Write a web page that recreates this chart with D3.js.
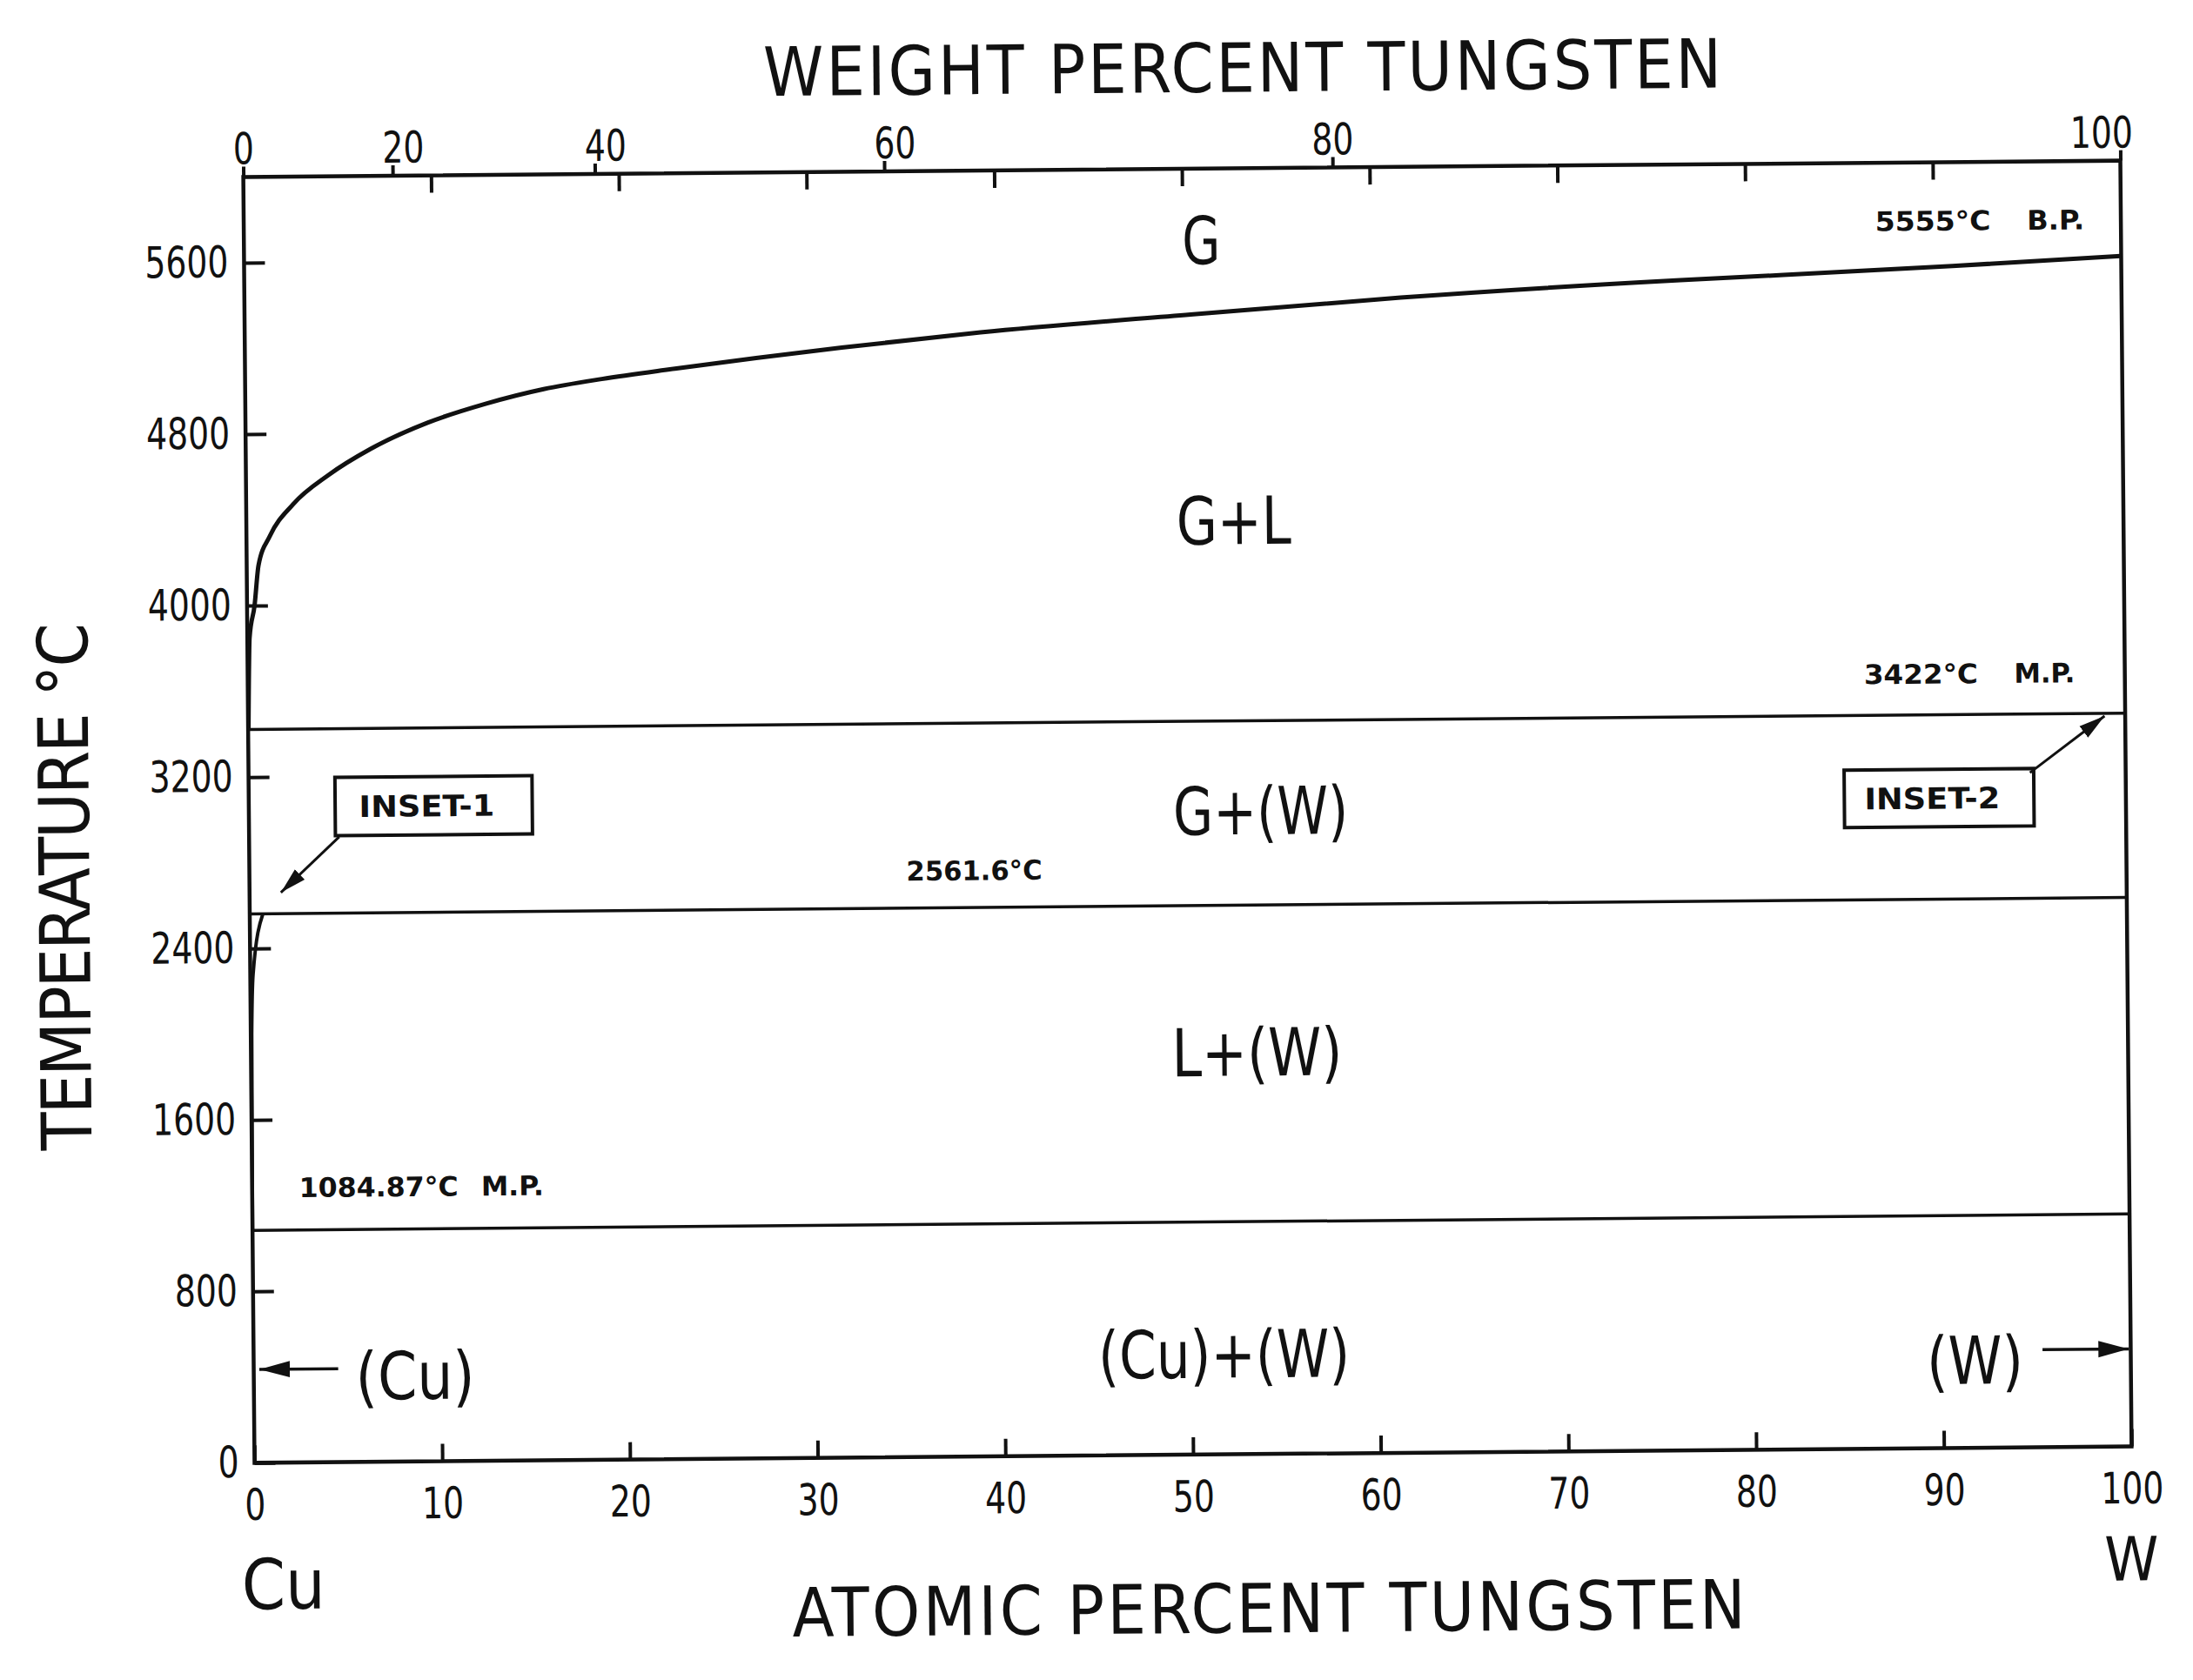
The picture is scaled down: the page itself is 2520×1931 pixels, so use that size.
<!DOCTYPE html>
<html><head><meta charset="utf-8">
<script src="https://cdn.jsdelivr.net/npm/d3@7"></script>
<style>
html,body{margin:0;padding:0;background:#fff;}
svg{display:block;}
text{font-family:"DejaVu Sans Condensed","Liberation Sans Narrow","Arial Narrow",sans-serif;fill:#111;}
</style></head><body>
<svg id="chart" width="2520" height="1931"></svg>
<script>
// ---------- data ----------
const atomicTicks = [0,10,20,30,40,50,60,70,80,90,100];
const weightTicks = [0,20,40,60,80,100];
const tempTicks = [0,800,1600,2400,3200,4000,4800,5600];
const isotherms = [1084.87, 2561.6, 3422];
const isothermValues = ["1084.87°C", "2561.6°C", "3422°C"];
const isothermNotes = ["M.P.", "", "M.P."];
const boilValue = "5555°C", boilNote = "B.P.";
// G / (G+L) boundary (at.% W, °C)
const boilAt = [0.02, 0.12, 0.40, 0.63, 1.25, 2.5, 4.4, 6.65, 9.7, 12.8, 15.9, 19.0, 22.9, 31.8, 39.2, 50.4, 61.6, 76.5, 82, 91, 100];
const boilT  = [3422, 3850, 4000, 4188, 4324, 4471, 4606, 4726, 4846, 4932, 4998, 5043, 5088, 5180, 5245, 5320, 5390, 5460, 5480, 5515, 5555];
// liquidus on the Cu side (at.% W, °C)
const liqAt = [0, 0.05, 0.15, 0.7];
const liqT  = [1084.87, 2000, 2280, 2561.6];
const phaseLabels = ["G", "G+L", "G+(W)", "L+(W)", "(Cu)+(W)"];
const massCu = 63.546, massW = 183.84;

// ---------- layout ----------
const W = 2520, H = 1931;
const pL = 286, pR = 2443, pT = 194, pB = 1672;
const cx = (pL + pR) / 2, cy = (pT + pB) / 2;
const x = d3.scaleLinear().domain([0, 100]).range([pL, pR]);
const y = d3.scaleLinear().domain([0, 6000]).range([pB, pT]);
const wtToAt = w => { const a = w / massW, b = (100 - w) / massCu; return 100 * a / (a + b); };
const ink = "#111";

const svg = d3.select("#chart");
svg.append("rect").attr("width", W).attr("height", H).attr("fill", "#fff");
const defs = svg.append("defs");
defs.append("marker").attr("id", "ah").attr("viewBox", "0 0 10 10")
  .attr("refX", 10).attr("refY", 5).attr("markerWidth", 10).attr("markerHeight", 10)
  .attr("markerUnits", "strokeWidth").attr("orient", "auto")
  .append("path").attr("d", "M0,2.3L10,5L0,7.7Z").attr("fill", ink);

const g = svg.append("g").attr("transform", `rotate(-0.5 ${cx} ${cy})`);

function styleAxis(sel, size) {
  sel.select(".domain").remove();
  sel.selectAll("line").attr("stroke", ink).attr("stroke-width", 4);
  sel.selectAll("text").attr("font-size", size)
    .attr("textLength", function () { return this.textContent.length * 24; })
    .attr("lengthAdjust", "spacingAndGlyphs");
}
const plain = d => String(d);

// bottom (atomic %)
g.append("g").attr("transform", `translate(0,${pB})`)
  .call(d3.axisBottom(x).tickValues(atomicTicks).tickSize(-20).tickSizeOuter(0).tickPadding(30).tickFormat(plain))
  .call(s => styleAxis(s, 50));
// left (temperature)
g.append("g").attr("transform", `translate(${pL},0)`)
  .call(d3.axisLeft(y).tickValues(tempTicks).tickSize(-24).tickSizeOuter(0).tickPadding(18).tickFormat(plain))
  .call(s => styleAxis(s, 50));
// top atomic minor ticks (inside)
g.append("g").attr("transform", `translate(0,${pT})`)
  .call(d3.axisTop(x).tickValues(atomicTicks.slice(1, -1)).tickSize(-20).tickSizeOuter(0).tickFormat(""))
  .call(s => styleAxis(s, 50));
// top weight % ticks and labels
const wtAxis = g.append("g").attr("transform", `translate(0,${pT})`)
  .call(d3.axisTop(x).tickValues(weightTicks.map(wtToAt)).tickSize(12).tickSizeOuter(0).tickPadding(3)
        .tickFormat((d, i) => weightTicks[i]))
  .call(s => styleAxis(s, 50));
wtAxis.selectAll(".tick text").attr("dx", (d, i) =>
  i === weightTicks.length - 1 ? -22 : (i > 0 && i < weightTicks.length - 2 ? 12 : 0));

// frame
g.append("rect").attr("x", pL).attr("y", pT).attr("width", pR - pL).attr("height", pB - pT)
  .attr("fill", "none").attr("stroke", ink).attr("stroke-width", 4.5);

// isotherms
g.selectAll(".iso").data(isotherms).join("line").attr("class", "iso")
  .attr("x1", x(0)).attr("x2", x(100)).attr("y1", d => y(d)).attr("y2", d => y(d))
  .attr("stroke", ink).attr("stroke-width", 3.5);

// curves
const line = d3.line().x(d => x(d[0])).y(d => y(d[1])).curve(d3.curveMonotoneX);
g.append("path").attr("d", line(boilAt.map((a, i) => [a, boilT[i]])))
  .attr("fill", "none").attr("stroke", ink).attr("stroke-width", 5);
g.append("path").attr("d", line(liqAt.map((a, i) => [a, liqT[i]])))
  .attr("fill", "none").attr("stroke", ink).attr("stroke-width", 4);

// phase labels
const phasePos = [[51.0, 5667], [52.6, 4358], [53.9, 3003], [53.6, 1877], [51.7, 469]];
const phaseLen = [44, 132, 201, 196, 289];
g.selectAll(".phase").data(phaseLabels).join("text").attr("class", "phase")
  .attr("x", (d, i) => x(phasePos[i][0])).attr("y", (d, i) => y(phasePos[i][1]))
  .attr("dy", "0.36em").attr("text-anchor", "middle").attr("font-size", 76)
  .attr("textLength", (d, i) => phaseLen[i]).attr("lengthAdjust", "spacingAndGlyphs")
  .text(d => d);

// small value labels: value part + note part
function small(txt, at, t, len) {
  if (!txt) return;
  g.append("text").attr("x", x(at)).attr("y", y(t)).attr("dy", "0.36em")
    .attr("font-size", 31).attr("font-weight", "bold")
    .attr("textLength", len).attr("lengthAdjust", "spacingAndGlyphs").text(txt);
}
small(boilValue, 86.9, 5727, 133);  small(boilNote, 95.0, 5727, 66);
small(isothermValues[2], 86.1, 3613, 131); small(isothermNotes[2], 94.1, 3613, 70);
small(isothermValues[1], 35.0, 2735, 156);
small(isothermValues[0], 2.5, 1283, 183); small(isothermNotes[0], 12.2, 1283, 72);

// inset boxes with arrows
function inset(txt, a0, a1, t0, t1, from, to) {
  g.append("rect").attr("x", x(a0)).attr("y", y(t0)).attr("width", x(a1) - x(a0)).attr("height", y(t1) - y(t0))
    .attr("fill", "#fff").attr("stroke", ink).attr("stroke-width", 4);
  g.append("text").attr("x", (x(a0) + x(a1)) / 2 - 8).attr("y", (y(t0) + y(t1)) / 2).attr("dy", "0.36em")
    .attr("text-anchor", "middle").attr("font-size", 34).attr("font-weight", "bold")
    .attr("textLength", 156).attr("lengthAdjust", "spacingAndGlyphs").text(txt);
  g.append("line").attr("x1", x(from[0])).attr("y1", y(from[1])).attr("x2", x(to[0])).attr("y2", y(to[1]))
    .attr("stroke", ink).attr("stroke-width", 3).attr("marker-end", "url(#ah)");
}
inset("INSET-1", 4.6, 15.1, 3195, 2923, [4.8, 2917], [1.67, 2660]);
inset("INSET-2", 85.0, 95.1, 3167, 2899, [94.9, 3148], [98.9, 3409]);

// terminal solid solutions with arrows
g.append("text").attr("x", x(8.6)).attr("y", y(402)).attr("dy", "0.36em").attr("text-anchor", "middle")
  .attr("font-size", 76).attr("textLength", 137).attr("lengthAdjust", "spacingAndGlyphs").text("(Cu)");
g.append("line").attr("x1", x(4.5)).attr("y1", y(436)).attr("x2", x(0.3)).attr("y2", y(436))
  .attr("stroke", ink).attr("stroke-width", 3.5).attr("marker-end", "url(#ah)");
g.append("text").attr("x", x(91.7)).attr("y", y(410)).attr("dy", "0.36em").attr("text-anchor", "middle")
  .attr("font-size", 76).attr("textLength", 111).attr("lengthAdjust", "spacingAndGlyphs").text("(W)");
g.append("line").attr("x1", x(95.3)).attr("y1", y(455)).attr("x2", x(99.9)).attr("y2", y(455))
  .attr("stroke", ink).attr("stroke-width", 3.5).attr("marker-end", "url(#ah)");

// titles
g.append("text").attr("x", 1435).attr("y", 106).attr("text-anchor", "middle").attr("font-size", 78)
  .attr("textLength", 1101).attr("lengthAdjust", "spacing").text("WEIGHT PERCENT TUNGSTEN");
g.append("text").attr("x", 1450).attr("y", 1877).attr("text-anchor", "middle").attr("font-size", 78)
  .attr("textLength", 1095).attr("lengthAdjust", "spacing").text("ATOMIC PERCENT TUNGSTEN");
g.append("text").attr("x", 318).attr("y", 1840).attr("text-anchor", "middle").attr("font-size", 80).text("Cu");
g.append("text").attr("x", 2442).attr("y", 1826).attr("text-anchor", "middle").attr("font-size", 70).text("W");
g.append("text").attr("transform", "translate(102,1008) rotate(-90)").attr("text-anchor", "middle")
  .attr("font-size", 80).attr("textLength", 606).attr("lengthAdjust", "spacing").text("TEMPERATURE °C");
</script>
</body></html>
